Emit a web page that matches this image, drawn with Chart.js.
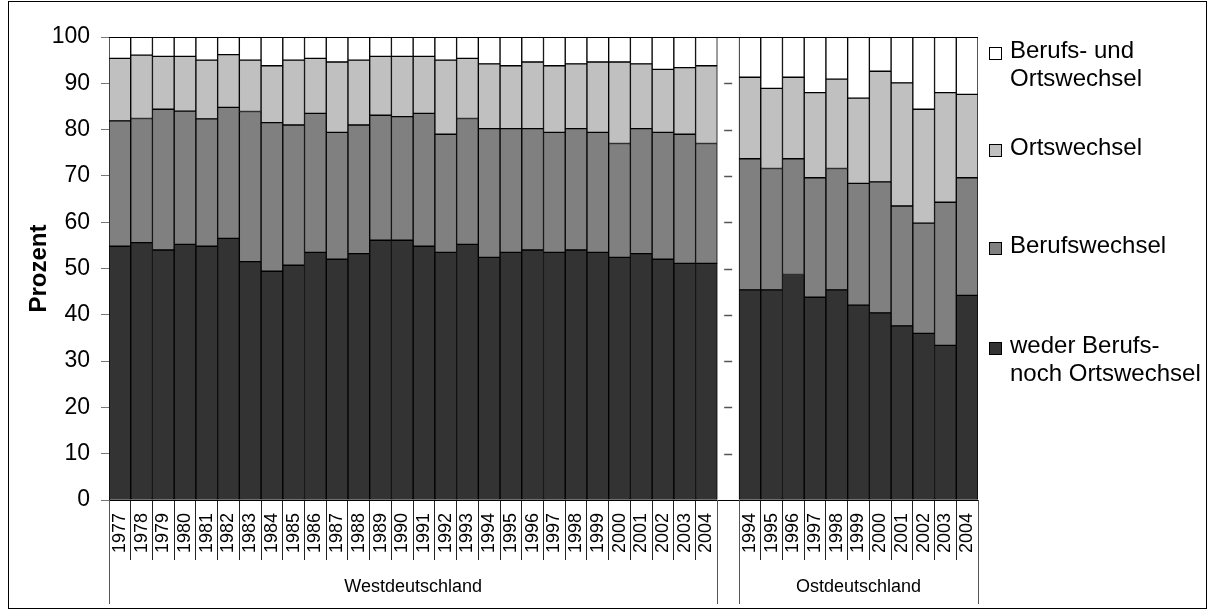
<!DOCTYPE html>
<html>
<head>
<meta charset="utf-8">
<script src="https://cdn.jsdelivr.net/npm/chart.js@4"></script>
<style>
  html, body { margin: 0; padding: 0; background: #fff; }
  #wrap { position: relative; width: 1211px; height: 611px; }
</style>
</head>
<body>
<div id="wrap"><canvas id="c" width="1211" height="611"></canvas></div>
<script>
// ---- data ----
const westYears = ['1977','1978','1979','1980','1981','1982','1983','1984','1985','1986','1987','1988','1989','1990','1991','1992','1993','1994','1995','1996','1997','1998','1999','2000','2001','2002','2003','2004'];
const eastYears = ['1994','1995','1996','1997','1998','1999','2000','2001','2002','2003','2004'];
const groupNames = ['Westdeutschland', 'Ostdeutschland'];

const westWeder  = [54.8,55.6,54.0,55.2,54.8,56.5,51.5,49.4,50.7,53.5,52.0,53.2,56.1,56.1,54.8,53.5,55.2,52.4,53.5,54.0,53.5,54.0,53.5,52.4,53.2,52.0,51.1,51.1];
const westBeruf  = [27.1,26.8,30.4,28.8,27.5,28.3,32.4,32.1,30.3,30.0,27.4,27.8,27.0,26.7,28.7,25.5,27.2,27.8,26.7,26.2,25.9,26.2,25.9,24.6,27.0,27.4,27.9,25.9];
const westOrt    = [13.5,13.7,11.4,11.8,12.7,11.4,11.1,12.3,14.0,11.9,15.2,14.0,12.7,13.0,12.3,16.0,13.0,14.0,13.6,14.4,14.4,14.0,15.2,17.6,14.0,13.6,14.4,16.8];
const westBeide  = [4.6,3.9,4.2,4.2,5.0,3.8,5.0,6.2,5.0,4.6,5.4,5.0,4.2,4.2,4.2,5.0,4.6,5.8,6.2,5.4,6.2,5.8,5.4,5.4,5.8,7.0,6.6,6.2];

const eastWeder  = [45.4,45.4,48.7,43.8,45.4,42.1,40.4,37.6,36.0,33.4,44.2];
const eastBeruf  = [28.3,26.2,25.0,25.8,26.2,26.3,28.3,25.9,23.8,30.9,25.4];
const eastOrt    = [17.6,17.3,17.6,18.4,19.3,18.4,23.9,26.6,24.6,23.7,18.0];
const eastBeide  = [8.7,11.1,8.7,12.0,9.1,13.2,7.4,9.9,15.6,12.0,12.4];

const seriesNames = ['weder Berufs- noch Ortswechsel', 'Berufswechsel', 'Ortswechsel', 'Berufs- und Ortswechsel'];
const legendLines = [['weder Berufs-', 'noch Ortswechsel'], ['Berufswechsel'], ['Ortswechsel'], ['Berufs- und', 'Ortswechsel']];
const yTicks = [0,10,20,30,40,50,60,70,80,90,100];

// ---- build combined category axis (gap category between groups) ----
const labels = westYears.concat([''], eastYears);
const join = (w, e) => w.concat([null], e);
const colors = ['#333333', '#808080', '#C0C0C0', '#FFFFFF'];
const seriesData = [join(westWeder, eastWeder), join(westBeruf, eastBeruf), join(westOrt, eastOrt), join(westBeide, eastBeide)];

const FONT = "'Liberation Sans', Arial, sans-serif";

const decor = {
  id: 'decor',
  afterDraw(chart) {
    const ctx = chart.ctx;
    const x = chart.scales.x, y = chart.scales.y;
    const area = chart.chartArea;
    const nW = westYears.length;
    const half = (x.getPixelForValue(1) - x.getPixelForValue(0)) / 2;
    const westL = x.getPixelForValue(0) - half;
    const westR = x.getPixelForValue(nW - 1) + half;
    const eastL = x.getPixelForValue(nW + 1) - half;
    const eastR = x.getPixelForValue(labels.length - 1) + half;
    ctx.save();
    // outer frame
    ctx.strokeStyle = '#000';
    ctx.lineWidth = 1;
    ctx.strokeRect(8.5, 1.5, 1198, 607);
    // top line at 100
    ctx.beginPath();
    const y100 = Math.round(y.getPixelForValue(100)) + 0.5;
    ctx.moveTo(area.left, y100); ctx.lineTo(area.right, y100);
    ctx.stroke();
    // group separator lines
    ctx.strokeStyle = '#555';
    [westL, westR, eastL, eastR].forEach(px => {
      const p = Math.round(px) + 0.5;
      ctx.beginPath();
      ctx.moveTo(p, area.bottom); ctx.lineTo(p, 604);
      ctx.stroke();
    });
    // tick marks in the gap
    const gapC = x.getPixelForValue(nW);
    ctx.strokeStyle = '#555';
    ctx.lineWidth = 1.5;
    yTicks.slice(1, -1).forEach(v => {
      const py = Math.round(y.getPixelForValue(v)) + 0.5;
      ctx.beginPath();
      ctx.moveTo(gapC - 4, py); ctx.lineTo(gapC + 4, py);
      ctx.stroke();
    });
    ctx.lineWidth = 1;
    // group labels
    ctx.fillStyle = '#000';
    ctx.font = '18px ' + FONT;
    ctx.textAlign = 'center';
    ctx.textBaseline = 'middle';
    ctx.fillText(groupNames[0], (westL + westR) / 2, 587);
    ctx.fillText(groupNames[1], (eastL + eastR) / 2, 587);
    // legend (top series first)
    const baselines = [353, 253, 155, 58];
    ctx.font = '24px ' + FONT;
    ctx.textAlign = 'left';
    ctx.textBaseline = 'alphabetic';
    chart.data.datasets.forEach((ds, i) => {
      const b = baselines[i];
      ctx.fillStyle = ds.backgroundColor;
      ctx.fillRect(989, b - 11, 12, 12);
      ctx.strokeStyle = '#000';
      ctx.strokeRect(989.5, b - 10.5, 12, 12);
      ctx.fillStyle = '#000';
      legendLines[i].forEach((t, k) => ctx.fillText(t, 1010, b + k * 28));
    });
    ctx.restore();
  }
};

new Chart(document.getElementById('c'), {
  type: 'bar',
  data: {
    labels: labels,
    datasets: seriesData.map((d, i) => ({
      label: seriesNames[i],
      data: d,
      backgroundColor: colors[i],
      borderColor: '#000',
      borderWidth: 1,
      borderSkipped: false,
      barPercentage: 1,
      categoryPercentage: 1
    }))
  },
  options: {
    responsive: false,
    animation: false,
    events: [],
    layout: { padding: { left: 0, top: 37, right: 233, bottom: 0 } },
    plugins: { legend: { display: false }, tooltip: { enabled: false } },
    scales: {
      x: {
        stacked: true,
        afterFit(s) { s.height = 111; },
        grid: { offset: true, drawOnChartArea: false, drawTicks: true, tickLength: 60, color: '#222', lineWidth: 1 },
        border: { color: '#000', width: 1 },
        ticks: { autoSkip: false, minRotation: 90, maxRotation: 90, padding: -47, color: '#000', font: { family: FONT, size: 18 } }
      },
      y: {
        stacked: true,
        min: 0, max: 100,
        afterFit(s) { s.width = 109; },
        afterBuildTicks(s) { s.ticks = yTicks.map(v => ({ value: v })); },
        grid: { drawOnChartArea: false, drawTicks: true, tickLength: 8, color: '#777' },
        border: { color: '#000', width: 1 },
        ticks: { padding: 11, color: '#000', font: { family: FONT, size: 23 } },
        title: { display: true, text: 'Prozent', color: '#000', padding: { top: 25, bottom: 0 }, font: { family: FONT, size: 24, weight: 'bold' } }
      }
    }
  },
  plugins: [decor]
});
</script>
</body>
</html>
